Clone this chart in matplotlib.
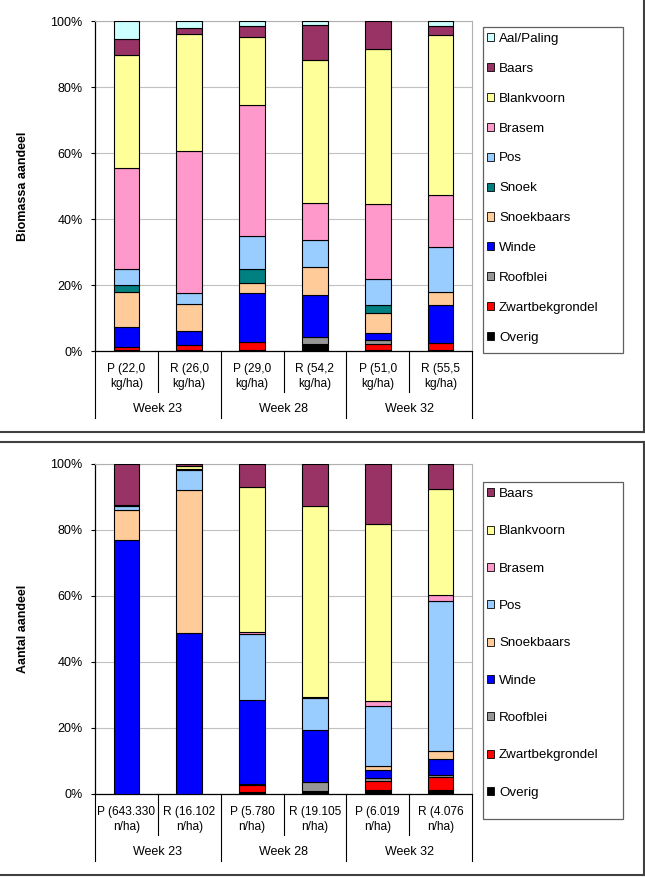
import matplotlib
matplotlib.use("Agg")
import matplotlib.pyplot as plt
import matplotlib.transforms as mtransforms
from matplotlib.patches import Patch, Rectangle
from matplotlib.lines import Line2D
import numpy as np

plt.rcParams['font.family'] = ['Liberation Sans', 'DejaVu Sans']

# ---------------- data ----------------
bar_labels_top = ["P (22,0\nkg/ha)", "R (26,0\nkg/ha)", "P (29,0\nkg/ha)",
                  "R (54,2\nkg/ha)", "P (51,0\nkg/ha)", "R (55,5\nkg/ha)"]
bar_labels_bot = ["P (643.330\nn/ha)", "R (16.102\nn/ha)", "P (5.780\nn/ha)",
                  "R (19.105\nn/ha)", "P (6.019\nn/ha)", "R (4.076\nn/ha)"]
weeks = ["Week 23", "Week 28", "Week 32"]

# stacking order bottom -> top
species_top = ["Overig", "Zwartbekgrondel", "Roofblei", "Winde", "Snoekbaars",
               "Snoek", "Pos", "Brasem", "Blankvoorn", "Baars", "Aal/Paling"]
overig_t      = [0.3, 0.3, 0.3, 2.0, 0.3, 0.3]
zwartbek_t    = [1.0, 1.5, 2.4, 0.0, 1.8, 2.0]
roofblei_t    = [0.0, 0.0, 0.0, 2.3, 1.2, 0.0]
winde_t       = [6.1, 4.3, 14.9, 12.7, 2.3, 11.6]
snoekbaars_t  = [10.4, 8.0, 2.9, 8.4, 6.0, 4.0]
snoek_t       = [2.1, 0.0, 4.3, 0.0, 2.2, 0.0]
pos_t         = [4.8, 3.4, 10.0, 8.1, 8.0, 13.5]
brasem_t      = [30.8, 43.2, 39.7, 11.5, 22.7, 15.8]
blankvoorn_t  = [34.1, 35.4, 20.6, 43.2, 46.9, 48.5]
baars_t       = [4.8, 1.7, 3.3, 10.6, 8.6, 2.7]
aal_t         = [5.6, 2.2, 1.6, 1.2, 0.0, 1.6]

species_bot = ["Overig", "Zwartbekgrondel", "Roofblei", "Winde", "Snoekbaars",
               "Pos", "Brasem", "Blankvoorn", "Baars"]
overig_b      = [0.0, 0.0, 0.5, 1.0, 1.3, 1.3]
zwartbek_b    = [0.0, 0.0, 2.3, 0.0, 2.5, 3.9]
roofblei_b    = [0.0, 0.0, 0.3, 2.5, 1.0, 0.7]
winde_b       = [76.9, 48.9, 25.5, 16.0, 2.6, 4.7]
snoekbaars_b  = [9.1, 43.2, 0.0, 0.0, 1.2, 2.5]
pos_b         = [1.4, 6.2, 20.0, 9.6, 18.2, 45.5]
brasem_b      = [0.3, 0.3, 0.4, 0.3, 1.5, 1.6]
blankvoorn_b  = [0.0, 0.8, 44.0, 57.8, 53.5, 32.3]
baars_b       = [12.3, 0.6, 7.0, 12.8, 18.2, 7.5]

colors = {
    "Aal/Paling": "#CCFFFF", "Baars": "#993366", "Blankvoorn": "#FFFF99",
    "Brasem": "#FF99CC", "Pos": "#99CCFF", "Snoek": "#008080",
    "Snoekbaars": "#FFCC99", "Winde": "#0000FF", "Roofblei": "#969696",
    "Zwartbekgrondel": "#FF0000", "Overig": "#000000",
}

top_series = [overig_t, zwartbek_t, roofblei_t, winde_t, snoekbaars_t, snoek_t,
              pos_t, brasem_t, blankvoorn_t, baars_t, aal_t]
bot_series = [overig_b, zwartbek_b, roofblei_b, winde_b, snoekbaars_b, pos_b,
              brasem_b, blankvoorn_b, baars_b]

W, H = 645, 877
fig = plt.figure(figsize=(W / 100, H / 100), dpi=100)
FS = 9
LFS = 9.6


def fx(px):
    return px / W


def fy(py):
    return 1 - py / H


AX_L, AX_R = 95, 472


def draw_panel(ax_top_px, ax_bot_px, species, series, labels, ylabel,
               leg_top_px, leg_bot_px, spacing):
    ax = fig.add_axes([fx(AX_L), fy(ax_bot_px), fx(AX_R) - fx(AX_L),
                       (ax_bot_px - ax_top_px) / H])
    n = len(labels)
    x = np.arange(n)
    bottom = np.zeros(n)
    for name, vals in zip(species, series):
        vals = np.array(vals, dtype=float)
        mask = vals > 0
        ax.bar(x[mask], vals[mask], bottom=bottom[mask], width=0.41,
               color=colors[name], edgecolor="black", linewidth=0.8, zorder=3)
        bottom += vals
    ax.set_xlim(-0.5, n - 0.5)
    ax.set_ylim(0, 100)
    ax.set_yticks(np.arange(0, 101, 20))
    ax.set_yticklabels([f"{v}%" for v in range(0, 101, 20)], fontsize=FS)
    ax.yaxis.grid(True, color="#c0c0c0", linewidth=0.8, zorder=0)
    ax.set_xticks([])
    ax.tick_params(axis='y', length=3, width=0.8, pad=6)
    for s in ["top", "right"]:
        ax.spines[s].set_color("#b0b0b0")
        ax.spines[s].set_linewidth(0.8)
    for s in ["left", "bottom"]:
        ax.spines[s].set_color("black")
        ax.spines[s].set_linewidth(0.9)
    ax.set_ylabel(ylabel, fontsize=FS, fontweight="bold")
    ax.yaxis.set_label_coords((29 - AX_L) / (AX_R - AX_L), 0.5)

    h = ax_bot_px - ax_top_px
    trans = mtransforms.blended_transform_factory(ax.transData, ax.transAxes)
    for i, lab in enumerate(labels):
        ax.text(i, -25.5 / h, lab, transform=trans, ha="center", va="center",
                fontsize=8.6, linespacing=1.3)
    for g, wk in enumerate(weeks):
        ax.text(2 * g + 0.5, -58 / h, wk, transform=trans, ha="center",
                va="center", fontsize=FS)
    for b in range(n + 1):
        depth = 67 if b % 2 == 0 else 41
        ax.plot([b - 0.5, b - 0.5], [0, -depth / h], transform=trans,
                color="black", linewidth=0.8, clip_on=False)

    # legend frame
    fig.add_artist(Rectangle((fx(483), fy(leg_bot_px)), fx(623) - fx(483),
                             (leg_bot_px - leg_top_px) / H,
                             transform=fig.transFigure, facecolor="white",
                             edgecolor="#606060", linewidth=0.9, zorder=1))
    handles = [Patch(facecolor=colors[s], edgecolor="black", linewidth=0.6)
               for s in species[::-1]]
    leg = fig.legend(handles, species[::-1], loc="upper left",
                     bbox_to_anchor=(fx(487), fy(leg_top_px + 6)),
                     borderaxespad=0, fontsize=LFS,
                     handlelength=0.55, handleheight=0.55, handletextpad=0.35,
                     labelspacing=spacing, borderpad=0.0, frameon=False)
    leg.set_zorder(2)
    return ax


draw_panel(21, 351, species_top, top_series, bar_labels_top, "Biomassa aandeel",
           27, 353, 1.34)
draw_panel(464, 794, species_bot, bot_series, bar_labels_bot, "Aantal aandeel",
           482, 819, 1.90)

# panel frames
frame_kw = dict(color="#404040", linewidth=1.5, transform=fig.transFigure)
fig.add_artist(Line2D([0, fx(644)], [fy(432), fy(432)], **frame_kw))
fig.add_artist(Line2D([fx(644), fx(644)], [fy(0), fy(432)], **frame_kw))
fig.add_artist(Line2D([0, fx(644)], [fy(442), fy(442)], **frame_kw))
fig.add_artist(Line2D([fx(644), fx(644)], [fy(442), fy(875)], **frame_kw))
fig.add_artist(Line2D([0, fx(644)], [fy(875), fy(875)], **frame_kw))

fig.savefig("out.png", dpi=100)
